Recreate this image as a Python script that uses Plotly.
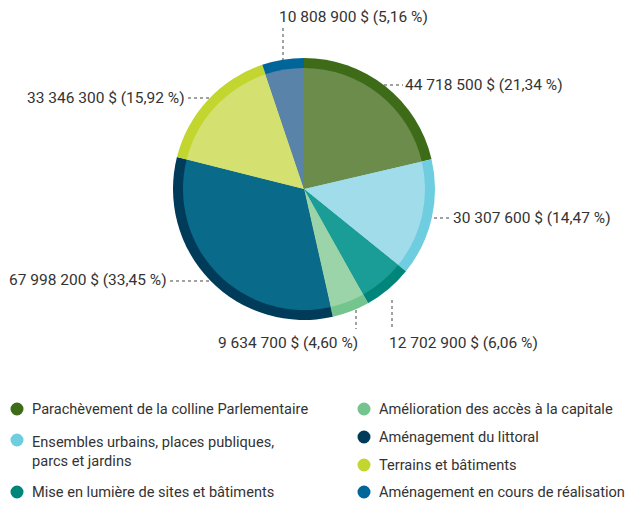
import plotly.graph_objects as go

# ---- data ----
categories = [
    "Parachèvement de la colline Parlementaire",
    "Ensembles urbains, places publiques, parcs et jardins",
    "Mise en lumière de sites et bâtiments",
    "Amélioration des accès à la capitale",
    "Aménagement du littoral",
    "Terrains et bâtiments",
    "Aménagement en cours de réalisation",
]
values = [44718500, 30307600, 12702900, 9634700, 67998200, 33346300, 10808900]
percents = ["21,34", "14,47", "6,06", "4,60", "33,45", "15,92", "5,16"]
legend_lines = [
    "Parachèvement de la colline Parlementaire",
    "Ensembles urbains, places publiques,<br>parcs et jardins",
    "Mise en lumière de sites et bâtiments",
    "Amélioration des accès à la capitale",
    "Aménagement du littoral",
    "Terrains et bâtiments",
    "Aménagement en cours de réalisation",
]
outer_colors = ["#3d6b17", "#6fcde0", "#00857a", "#73c48d", "#003b5a", "#c2d62f", "#006699"]
inner_colors = ["#6b8c4b", "#a1dcea", "#1b9d97", "#9cd4a9", "#0a6a8a", "#d4e06f", "#5a83aa"]

def fmt(v):
    return f"{v:,}".replace(",", " ")

value_labels = [f"{fmt(v)} $ ({p} %)" for v, p in zip(values, percents)]

W, H = 630, 505
def px(x):
    return x / W
def py(y):
    return 1 - y / H

FONT = "Roboto, Liberation Sans, sans-serif"
TXT = "#333333"

fig = go.Figure()
cx, cy, R, r = 304, 189, 131, 121
fig.add_trace(go.Pie(
    values=values, labels=categories, sort=False, direction="clockwise", rotation=0,
    marker=dict(colors=outer_colors, line=dict(width=0)), textinfo="none", hoverinfo="label+value",
    domain=dict(x=[px(cx - R), px(cx + R)], y=[py(cy + R), py(cy - R)]), showlegend=False,
))
fig.add_trace(go.Pie(
    values=values, labels=categories, sort=False, direction="clockwise", rotation=0,
    marker=dict(colors=inner_colors, line=dict(width=0)), textinfo="none", hoverinfo="label+value",
    domain=dict(x=[px(cx - r), px(cx + r)], y=[py(cy + r), py(cy - r)]), showlegend=False,
))

# label placements (pixel positions) and leader lines
label_pos = [
    (403, 85, "left"),
    (451, 218, "left"),
    (387, 343, "left"),
    (360, 343, "right"),
    (169, 280, "right"),
    (187, 98, "right"),
    (277, 17, "left"),
]
leaders = [
    ((384, 85), (403, 85)),
    ((434, 218), (451, 218)),
    ((392, 300), (392, 329)),
    ((356, 310), (356, 329)),
    ((170, 281), (210, 281)),
    ((188, 98), (210, 98)),
    ((283, 28), (283, 62)),
]

annotations = []
shapes = []
for (x, y, anc), txt in zip(label_pos, value_labels):
    annotations.append(dict(
        x=px(x), y=py(y), xref="paper", yref="paper", text=txt, showarrow=False,
        xanchor=anc, yanchor="middle", font=dict(family=FONT, size=15.5, color=TXT),
    ))
for (x0, y0), (x1, y1) in leaders:
    shapes.append(dict(
        type="line", xref="paper", yref="paper", x0=px(x0), y0=py(y0), x1=px(x1), y1=py(y1),
        line=dict(color="#444444", width=1, dash="dot"), layer="below",
    ))

# legend (two columns)
legend_pos = [
    (17, 409), (17, 440), (17, 492),
    (364, 409), (364, 437), (364, 465), (364, 492),
]
text_y = [409, 451, 492, 409, 437, 465, 492]
for (x, y), ty, col, txt in zip(legend_pos, text_y, outer_colors, legend_lines):
    d = 6.5
    shapes.append(dict(
        type="circle", xref="paper", yref="paper",
        x0=px(x - d), x1=px(x + d), y0=py(y + d), y1=py(y - d),
        fillcolor=col, line=dict(width=0),
    ))
    annotations.append(dict(
        x=px(x + 13), y=py(ty), xref="paper", yref="paper", text=txt, showarrow=False,
        xanchor="left", yanchor="middle", align="left",
        font=dict(family=FONT, size=14.6, color=TXT),
    ))

fig.update_layout(
    width=W, height=H, margin=dict(l=0, r=0, t=0, b=0),
    paper_bgcolor="white", plot_bgcolor="white",
    annotations=annotations, shapes=shapes, showlegend=False,
)
fig.write_html("out.html", config={"displayModeBar": False},
               post_script="document.body.style.margin='0';document.body.style.overflow='hidden';")
